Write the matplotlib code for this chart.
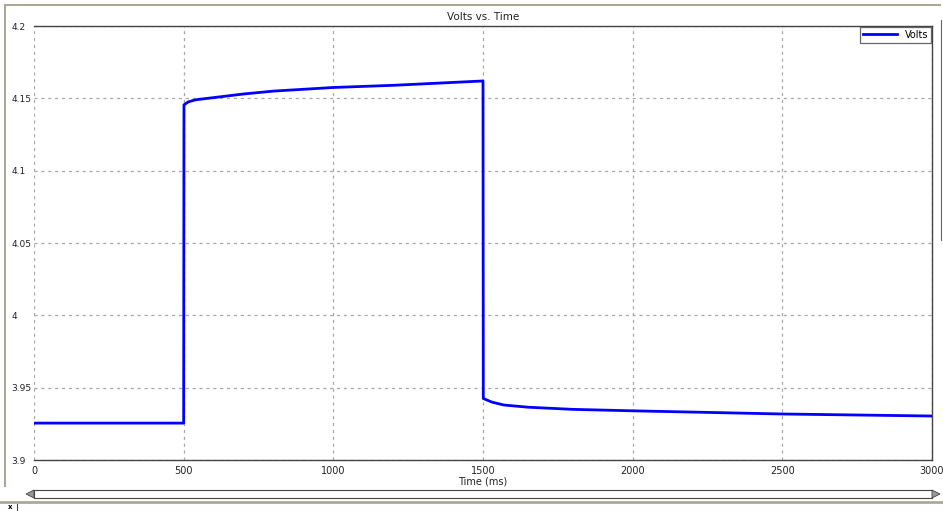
import matplotlib.pyplot as plt
from matplotlib.lines import Line2D
from matplotlib.patches import Rectangle, Polygon

# time (ms) and voltage
time_ms = [0, 500, 501, 515, 540, 600, 700, 800, 1000, 1200, 1400, 1500,
           1501, 1530, 1570, 1650, 1800, 2000, 2500, 3000]
volts = [3.9255, 3.9255, 4.1455, 4.1475, 4.1490, 4.1505, 4.1530, 4.1550,
         4.1575, 4.1590, 4.1610, 4.1620,
         3.9425, 3.9400, 3.9380, 3.9365, 3.9350, 3.9340, 3.9318, 3.9304]

xticks = [0, 500, 1000, 1500, 2000, 2500, 3000]
yticks = [3.9, 3.95, 4.0, 4.05, 4.1, 4.15, 4.2]
ytick_labels = ["3.9", "3.95", "4", "4.05", "4.1", "4.15", "4.2"]

W, H = 943, 511
fig = plt.figure(figsize=(W / 100, H / 100), dpi=100)
fig.patch.set_facecolor("white")

ax = fig.add_axes([34 / W, 1 - 460 / H, 898 / W, 434 / H])
ax.plot(time_ms, volts, color="#0000ff", lw=2.0, label="Volts", zorder=3)
ax.set_xlim(0, 3000)
ax.set_ylim(3.9, 4.2)
ax.set_xticks(xticks)
ax.set_xticklabels([str(t) for t in xticks], fontsize=7, color="#222222")
ax.set_yticks(yticks)
ax.set_yticklabels(ytick_labels, fontsize=6.5, color="#222222", ha="left")
ax.tick_params(axis="x", length=0, pad=4)
ax.tick_params(axis="y", length=0, pad=16.5)
ax.grid(True, color="#a8a8a8", linestyle=(0, (2.5, 3)), lw=0.9)
ax.spines["left"].set_visible(False)
for s in ["top", "bottom", "right"]:
    ax.spines[s].set_color("#444444")
    ax.spines[s].set_linewidth(1.0)
ax.set_title("Volts vs. Time", fontsize=7.5, color="#222222", pad=4)
ax.set_xlabel("Time (ms)", fontsize=7, color="#222222", labelpad=1)

leg = ax.legend(loc="upper right", fontsize=7, frameon=True, fancybox=False,
                borderaxespad=0.1, handlelength=3.5, borderpad=0.3,
                handletextpad=0.8)
leg.get_frame().set_edgecolor("#444444")
leg.get_frame().set_linewidth(0.9)

# window frame decorations
frame_col = "#aca899"
fig.add_artist(Line2D([5 / W, 940 / W], [1 - 5 / H, 1 - 5 / H], color=frame_col, lw=1.5))
fig.add_artist(Line2D([5 / W, 5 / W], [1 - 5 / H, 1 - 486 / H], color=frame_col, lw=1.5))
fig.add_artist(Line2D([941 / W, 941 / W], [1 - 20 / H, 1 - 240 / H], color="#666666", lw=0.8))

# scrollbar
fig.add_artist(Rectangle((34 / W, 1 - 498 / H), 898 / W, 8 / H, facecolor="white",
                         edgecolor="#444444", lw=0.8))
fig.add_artist(Polygon([[26 / W, 1 - 494 / H], [34 / W, 1 - 490 / H], [34 / W, 1 - 498 / H]],
                       closed=True, facecolor="#999999", edgecolor="#444444", lw=0.6))
fig.add_artist(Polygon([[940 / W, 1 - 494 / H], [932 / W, 1 - 490 / H], [932 / W, 1 - 498 / H]],
                       closed=True, facecolor="#999999", edgecolor="#444444", lw=0.6))
fig.add_artist(Line2D([0, 1], [1 - 502 / H, 1 - 502 / H], color=frame_col, lw=2))
fig.add_artist(Line2D([17 / W, 17 / W], [1 - 504 / H, 0], color="#444444", lw=0.8))
fig.text(10 / W, 1 - 507 / H, "x", fontsize=5, ha="center", va="center", weight="bold")

fig.savefig("out.png", dpi=100)
